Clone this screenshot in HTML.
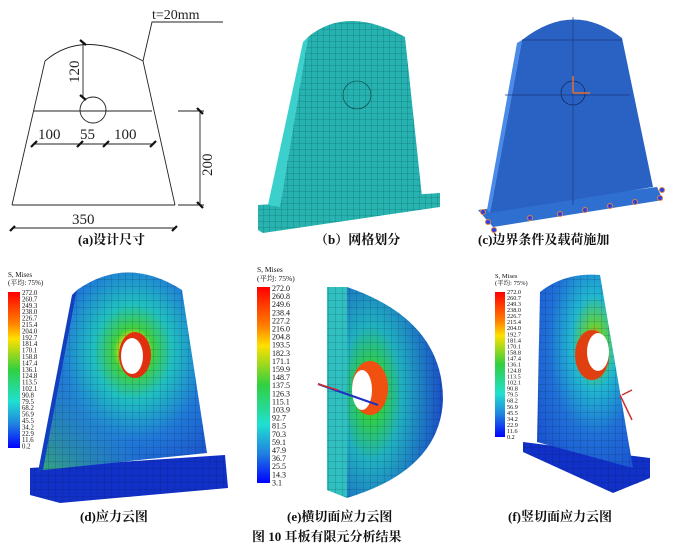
<!DOCTYPE html>
<html><head><meta charset="utf-8"><style>
html,body{margin:0;padding:0;background:#fff;}
svg{display:block;}
text{font-family:"Liberation Serif","Noto Serif CJK SC",serif;}
.lg{font-family:"Liberation Sans","Noto Sans CJK SC",sans-serif;fill:#111;}
.cap{font-size:13px;font-weight:bold;fill:#111;}
</style></head><body>
<svg width="680" height="553" viewBox="0 0 680 553" xmlns="http://www.w3.org/2000/svg">
<defs>
<pattern id="g6" width="6" height="6" patternUnits="userSpaceOnUse"><path d="M6 0V6H0" fill="none" stroke="#0b3b3b" stroke-width="0.5" opacity="0.7"/></pattern>
<pattern id="g7" width="7" height="7" patternUnits="userSpaceOnUse"><path d="M7 0V7H0" fill="none" stroke="#0a1a3a" stroke-width="0.5" opacity="0.6"/></pattern>
<linearGradient id="leg" x1="0" y1="0" x2="0" y2="1">
<stop offset="0" stop-color="#ff0000"/><stop offset="0.2" stop-color="#ff8000"/><stop offset="0.3" stop-color="#ffe000"/><stop offset="0.5" stop-color="#30d040"/><stop offset="0.7" stop-color="#20e0d0"/><stop offset="0.85" stop-color="#2080e0"/><stop offset="1" stop-color="#0000ff"/></linearGradient>
<radialGradient id="hd" cx="0.55" cy="0.4" r="0.75"><stop offset="0" stop-color="#ff6000"/><stop offset="0.09" stop-color="#e8e000"/><stop offset="0.16" stop-color="#40d040"/><stop offset="0.32" stop-color="#20c0c0"/><stop offset="0.6" stop-color="#2078d8"/><stop offset="1" stop-color="#1a48c8"/></radialGradient>
<linearGradient id="dl" x1="0" y1="1" x2="0.6" y2="0.3"><stop offset="0" stop-color="#40d060" stop-opacity="0.7"/><stop offset="0.5" stop-color="#30c0b0" stop-opacity="0"/></linearGradient>
<radialGradient id="he" cx="0.25" cy="0.5" r="0.8"><stop offset="0" stop-color="#ff7000"/><stop offset="0.15" stop-color="#30d040"/><stop offset="0.4" stop-color="#20b0c0"/><stop offset="1" stop-color="#1a40c8"/></radialGradient>
<radialGradient id="hf" cx="0.6" cy="0.35" r="0.8"><stop offset="0" stop-color="#ff9000"/><stop offset="0.12" stop-color="#60d040"/><stop offset="0.3" stop-color="#20b8d0"/><stop offset="0.6" stop-color="#2070d8"/><stop offset="1" stop-color="#1a50d0"/></radialGradient>
</defs>

<!-- (a) drawing -->
<g fill="none" stroke="#222" stroke-width="0.9">
<path d="M45 61 Q83 28 143 61"/>
<path d="M45 61 L12 205 M143 61 L175 205 M12 205 H175"/>
<path d="M34 111 H152"/>
<circle cx="93" cy="110" r="13"/>
<path d="M83 42 V97"/>
<path d="M34 144 H153"/>
<path d="M12 228 H175"/>
<path d="M200 111 V205 M178 111 H204 M178 205 H204"/>
<path d="M143 61 L152 22 H223"/>
</g>
<g stroke="#111" stroke-width="2.2">
<path d="M80 40 L86 45 M80 95 L86 100 M31 147 L37 141 M77 147 L83 141 M103 147 L109 141 M150 147 L156 141 M10 231 L15 226 M172 231 L177 226 M197 108 L203 114 M197 202 L203 208"/>
</g>
<g font-family="Liberation Sans,sans-serif" font-size="15" fill="#222">
<text x="152" y="19" font-size="14">t=20mm</text>
<text transform="translate(79,83) rotate(-90)">120</text>
<text x="38" y="139">100</text>
<text x="80" y="139">55</text>
<text x="114" y="139">100</text>
<text transform="translate(212,176) rotate(-90)">200</text>
<text x="72" y="224">350</text>
</g>
<text class="cap" x="78" y="244">(a)设计尺寸</text>

<!-- (b) mesh -->
<path d="M258 205 L440 193 L440 207 L263 233 L258 230 Z" fill="#27b4b0"/>
<path d="M258 205 L440 193 L440 207 L263 233 L258 230 Z" fill="url(#g6)"/>
<path d="M303 42 L308 37 L280 207 L268 205 Z" fill="#3cd0cc"/>
<path d="M308 37 Q347 5 405 37 L422 197 L280 207 Z" fill="#25b2b0"/>
<path d="M308 37 Q347 5 405 37 L422 197 L280 207 Z" fill="url(#g6)"/>
<circle cx="357" cy="95" r="14" fill="none" stroke="#0b3b3b" stroke-width="0.6"/>
<text class="cap" x="315" y="244">（b）网格划分</text>

<!-- (c) boundary -->
<path d="M478 210 L657 187 L663 200 L493 227 Z" fill="#2f6fd0"/>
<path d="M517 43 L522 40 L490 213 L487 210 Z" fill="#4a8ae8"/>
<path d="M522 40 Q573 0 622 38 L653 187 L490 213 Z" fill="#2a62c4"/>
<path d="M522 40 H622 M573 17 V205 M505 95 H630" stroke="#1a3a80" stroke-width="0.7" fill="none"/>
<circle cx="573" cy="93" r="12" fill="none" stroke="#102a60" stroke-width="0.8"/>
<path d="M573 93 H590 M573 93 V76" stroke="#e07030" stroke-width="1.5"/>
<g fill="#3040e0" stroke="#e08040" stroke-width="1">
<circle cx="483" cy="212" r="2.5"/><circle cx="488" cy="222" r="2.5"/><circle cx="494" cy="230" r="2.5"/><circle cx="530" cy="218" r="2.5"/><circle cx="560" cy="214" r="2.5"/><circle cx="585" cy="210" r="2.5"/><circle cx="610" cy="206" r="2.5"/><circle cx="635" cy="202" r="2.5"/><circle cx="660" cy="198" r="2.5"/><circle cx="662" cy="190" r="2.5"/>
</g>
<text class="cap" x="478" y="244">(c)边界条件及载荷施加</text>

<!-- (d) -->
<path d="M30 468 L225 455 L228 488 L60 503 L30 495 Z" fill="#1030c8"/>
<path d="M30 468 L225 455 L228 488 L60 503 L30 495 Z" fill="url(#g7)"/>
<path d="M77 290 Q127 255 182 290 L207 453 L43 470 Z" fill="url(#hd)"/>
<path d="M77 290 Q127 255 182 290 L207 453 L43 470 Z" fill="url(#dl)"/>
<path d="M77 290 Q127 255 182 290 L207 453 L43 470 Z" fill="url(#g7)"/>
<path d="M77 290 L72 295 L38 472 L43 470 Z" fill="#1040c0"/>
<ellipse cx="135" cy="355" rx="16" ry="23" fill="#e03010"/>
<ellipse cx="132" cy="356" rx="11" ry="18" fill="#fff"/>
<g class="lg" font-size="7">
<text x="8" y="277">S, Mises</text><text x="8" y="285">(平均: 75%)</text>
</g>
<rect x="8" y="292" width="12" height="156" fill="url(#leg)"/>
<g class="lg" font-size="6.8">
<text x="22" y="295">272.0</text><text x="22" y="301.4">260.7</text><text x="22" y="307.8">249.3</text><text x="22" y="314.2">238.0</text><text x="22" y="320.6">226.7</text><text x="22" y="327">215.4</text><text x="22" y="333.4">204.0</text><text x="22" y="339.8">192.7</text><text x="22" y="346.2">181.4</text><text x="22" y="352.6">170.1</text><text x="22" y="359">158.8</text><text x="22" y="365.4">147.4</text><text x="22" y="371.8">136.1</text><text x="22" y="378.2">124.8</text><text x="22" y="384.6">113.5</text><text x="22" y="391">102.1</text><text x="22" y="397.4">90.8</text><text x="22" y="403.8">79.5</text><text x="22" y="410.2">68.2</text><text x="22" y="416.6">56.9</text><text x="22" y="423">45.5</text><text x="22" y="429.4">34.2</text><text x="22" y="435.8">22.9</text><text x="22" y="442.2">11.6</text><text x="22" y="448.6">0.2</text>
</g>
<text class="cap" x="80" y="521">(d)应力云图</text>

<!-- (e) -->
<path d="M327 287 L347 287 L347 498 L327 490 Z" fill="#30c0c0"/>
<path d="M327 287 L347 287 L347 498 L327 490 Z" fill="url(#g7)"/>
<path d="M347 287 Q443 320 443 400 Q440 470 347 498 Z" fill="url(#he)"/>
<path d="M347 287 Q443 320 443 400 Q440 470 347 498 Z" fill="url(#g7)"/>
<ellipse cx="370" cy="388" rx="18" ry="27" fill="#f05010"/>
<ellipse cx="362" cy="390" rx="10" ry="20" fill="#fff"/>
<path d="M318 384 L378 405" stroke="#2030c0" stroke-width="2"/>
<path d="M318 384 L338 390" stroke="#d03030" stroke-width="1.5"/>
<g class="lg" font-size="7.5">
<text x="257" y="272">S, Mises</text><text x="257" y="281">(平均: 75%)</text>
</g>
<rect x="257" y="287" width="13" height="196" fill="url(#leg)"/>
<g class="lg" font-size="8">
<text x="272" y="291">272.0</text><text x="272" y="299.1">260.8</text><text x="272" y="307.2">249.6</text><text x="272" y="315.3">238.4</text><text x="272" y="323.4">227.2</text><text x="272" y="331.5">216.0</text><text x="272" y="339.6">204.8</text><text x="272" y="347.7">193.5</text><text x="272" y="355.8">182.3</text><text x="272" y="363.9">171.1</text><text x="272" y="372">159.9</text><text x="272" y="380.1">148.7</text><text x="272" y="388.2">137.5</text><text x="272" y="396.3">126.3</text><text x="272" y="404.4">115.1</text><text x="272" y="412.5">103.9</text><text x="272" y="420.6">92.7</text><text x="272" y="428.7">81.5</text><text x="272" y="436.8">70.3</text><text x="272" y="444.9">59.1</text><text x="272" y="453">47.9</text><text x="272" y="461.1">36.7</text><text x="272" y="469.2">25.5</text><text x="272" y="477.3">14.3</text><text x="272" y="485.4">3.1</text>
</g>
<text class="cap" x="287" y="521">(e)横切面应力云图</text>

<!-- (f) -->
<path d="M523 442 L650 458 L650 478 L613 493 L523 452 Z" fill="#1030c8"/>
<path d="M523 442 L650 458 L650 478 L613 493 L523 452 Z" fill="url(#g7)"/>
<path d="M540 292 Q565 272 600 275 L633 468 L537 442 Z" fill="url(#hf)"/>
<path d="M540 292 Q565 272 600 275 L633 468 L537 442 Z" fill="url(#g7)"/>
<ellipse cx="592" cy="355" rx="17" ry="25" fill="#e04010"/>
<ellipse cx="598" cy="352" rx="11" ry="19" fill="#fff"/>
<path d="M622 395 L632 390 M620 395 L632 420" stroke="#d03030" stroke-width="1.5"/>
<g class="lg" font-size="6.5">
<text x="495" y="278">S, Mises</text><text x="495" y="285">(平均: 75%)</text>
</g>
<rect x="495" y="292" width="10" height="145" fill="url(#leg)"/>
<g class="lg" font-size="6.2">
<text x="507" y="294">272.0</text><text x="507" y="300">260.7</text><text x="507" y="306.1">249.3</text><text x="507" y="312.1">238.0</text><text x="507" y="318.2">226.7</text><text x="507" y="324.2">215.4</text><text x="507" y="330.2">204.0</text><text x="507" y="336.3">192.7</text><text x="507" y="342.3">181.4</text><text x="507" y="348.4">170.1</text><text x="507" y="354.4">158.8</text><text x="507" y="360.4">147.4</text><text x="507" y="366.5">136.1</text><text x="507" y="372.5">124.8</text><text x="507" y="378.6">113.5</text><text x="507" y="384.6">102.1</text><text x="507" y="390.6">90.8</text><text x="507" y="396.7">79.5</text><text x="507" y="402.7">68.2</text><text x="507" y="408.8">56.9</text><text x="507" y="414.8">45.5</text><text x="507" y="420.8">34.2</text><text x="507" y="426.9">22.9</text><text x="507" y="432.9">11.6</text><text x="507" y="439">0.2</text>
</g>
<text class="cap" x="508" y="521">(f)竖切面应力云图</text>

<text class="cap" x="252" y="541">图 10  耳板有限元分析结果</text>
</svg>
</body></html>
